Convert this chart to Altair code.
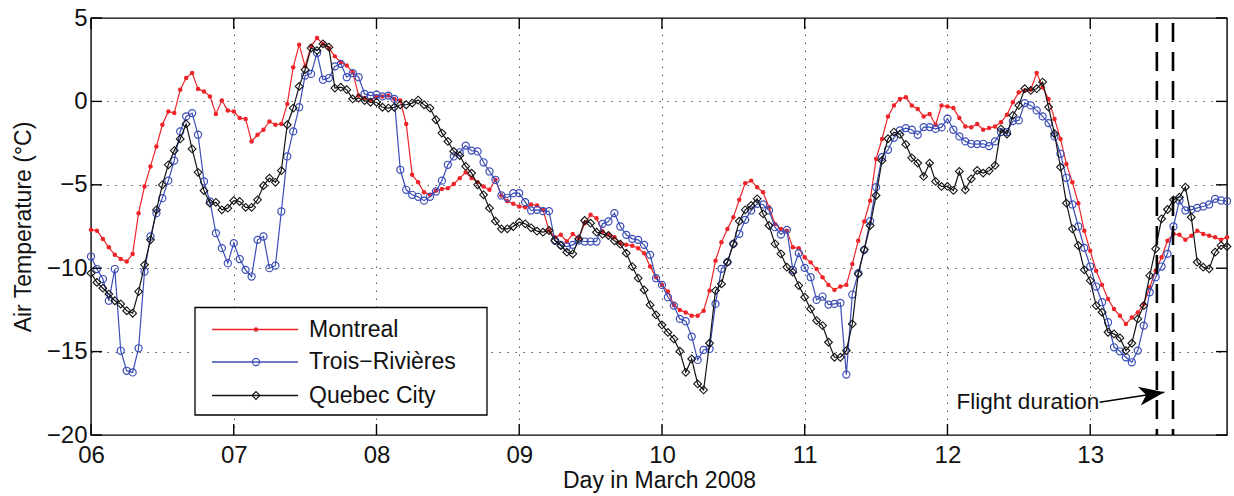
import altair as alt
import pandas as pd

# Hourly air temperature (deg C), 6 March 00h to 13 March 23h 2008, one row per day
montreal = [
    -7.7, -7.75, -8.25, -8.75, -9.2, -9.45, -9.6, -9.15, -6.7, -5.1, -3.9, -2.7,
    -1.4, -0.6, -0.7, 0.7, 1.4, 1.7, 0.75, 0.6, 0.3, -0.75, 0.05, -0.55,
    -0.6, -1.0, -1.05, -2.4, -2.0, -1.7, -1.2, -1.4, -1.35, -0.15, 2.05, 3.4,
    2.1, 3.3, 3.8, 3.45, 3.2, 2.7, 2.35, 2.15, 1.75, 0.35, 0.2, 0.05,
    0.3, 0.3, 0.35, 0.15, 0.05, -1.35, -4.4, -4.85, -5.45, -5.6, -5.35, -5.25,
    -5.2, -4.95, -4.6, -4.25, -4.6, -4.85, -5.1, -5.3, -4.7, -5.64, -5.98, -6.14,
    -6.3, -6.34, -6.18, -6.24, -6.5, -7.74, -8.14, -8.0, -8.4, -7.95, -8.2, -7.3,
    -6.8, -7.0, -7.8, -8.0, -8.15, -8.5, -8.6, -8.65, -8.8, -9.1, -9.9, -10.55,
    -11.0, -11.4, -12.2, -12.5, -12.65, -12.85, -12.85, -12.55, -11.35, -9.55, -8.45, -7.65,
    -6.95, -5.9, -4.9, -4.75, -5.15, -5.45, -6.35, -7.35, -7.65, -7.75, -8.75, -8.8,
    -9.35, -9.65, -10.05, -10.55, -11.0, -11.3, -11.1, -11.0, -9.75, -8.35, -7.2, -5.95,
    -3.45, -2.25, -0.9, -0.25, 0.15, 0.25, -0.25, -0.45, -0.9, -0.75, -1.4, -0.25,
    -0.3, -0.4, -1.0, -1.5, -1.55, -1.35, -1.7, -1.6, -1.5, -1.25, -0.8, -0.05,
    0.55, 0.65, 0.7, 1.7, 0.85, 0.15, -1.05, -2.25, -3.75, -4.85, -6.1, -7.75,
    -8.95, -10.15, -11.0, -11.85, -12.45, -12.85, -13.35, -12.95, -12.65, -12.15, -11.15, -10.15,
    -9.35, -8.35, -7.95, -8.0, -8.3, -8.05, -7.75, -7.95, -8.05, -8.15, -8.3, -8.15,
]

trois_rivieres = [
    -9.3, -10.05, -10.65, -11.95, -10.05, -14.95, -16.15, -16.25, -14.8, -10.2, -8.1, -6.7,
    -5.8, -4.75, -3.55, -1.8, -0.9, -0.7, -2.0, -4.8, -6.0, -7.9, -8.8, -9.7,
    -8.5, -9.45, -10.1, -10.5, -8.3, -8.1, -10.0, -9.85, -6.6, -3.3, -1.8, -0.35,
    1.55, 1.65, 2.9, 1.3, 1.4, 2.1, 2.25, 1.45, 1.7, 1.45, 0.45, 0.35,
    0.4, 0.3, 0.35, 0.15, -4.1, -5.3, -5.6, -5.72, -5.95, -5.72, -5.4, -4.75,
    -3.8, -3.3, -3.05, -2.65, -2.95, -3.0, -3.65, -4.2, -4.7, -5.64, -5.78, -5.5,
    -5.5, -6.04, -6.54, -6.5, -6.58, -6.58, -8.34, -8.6, -8.7, -8.6, -8.34, -8.4,
    -8.4, -8.4, -7.34, -7.2, -6.7, -7.5, -8.0, -8.24, -8.3, -8.6, -9.2, -10.6,
    -11.0, -11.74, -12.24, -13.04, -13.18, -14.1, -15.5, -14.9, -14.84, -12.14, -10.04, -9.64,
    -8.54, -7.94, -7.1, -6.54, -6.14, -6.18, -6.54, -7.54, -7.98, -7.7, -10.1, -9.1,
    -9.98, -10.54, -11.9, -11.7, -12.18, -12.14, -12.08, -16.38, -11.58, -10.3, -8.9, -7.18,
    -5.14, -3.34, -2.9, -2.18, -1.74, -1.6, -1.7, -2.0, -1.54, -1.54, -1.65, -1.56,
    -1.04, -1.7, -2.1, -2.4, -2.54, -2.56, -2.54, -2.68, -2.4, -1.84, -1.84, -1.18,
    -1.14, -0.1, -0.24, -0.54, -0.9, -1.3, -2.1, -3.14, -4.58, -6.18, -7.5, -8.78,
    -9.9, -11.1, -12.04, -13.24, -14.74, -14.98, -15.34, -15.64, -14.94, -13.44, -11.44, -10.54,
    -9.9, -9.14, -7.5, -5.94, -6.54, -6.5, -6.38, -6.3, -6.18, -5.84, -5.94, -5.98,
]

quebec_city = [
    -10.3, -10.85, -11.2, -11.55, -11.95, -12.15, -12.55, -12.7, -11.4, -9.8, -8.3, -6.5,
    -5.0, -3.8, -2.95, -2.25, -1.35, -2.85, -4.25, -5.35, -6.1, -6.05, -6.5, -6.4,
    -5.95, -6.0, -6.35, -6.35, -5.9, -5.05, -4.6, -4.85, -4.15, -1.4, -0.4, 0.9,
    1.9, 3.2, 3.05, 3.45, 3.25, 0.8, 0.85, 0.7, 0.15, 0.2, 0.05, -0.05,
    -0.05, -0.35, -0.4, -0.35, -0.2, -0.2, -0.1, 0.08, -0.2, -0.4, -1.1, -1.9,
    -2.4, -3.0, -3.25, -3.9, -4.3, -5.0, -5.6, -6.4, -7.18, -7.64, -7.64, -7.5,
    -7.24, -7.34, -7.58, -7.78, -7.84, -7.74, -8.34, -8.64, -9.04, -9.14, -8.24, -7.14,
    -7.3, -7.84, -7.96, -8.04, -8.36, -8.56, -9.1, -9.9, -10.6, -11.3, -12.2, -12.8,
    -13.4, -13.85, -14.24, -14.98, -16.24, -15.44, -16.94, -17.3, -14.5, -11.34, -10.94, -9.64,
    -8.54, -7.18, -6.5, -6.24, -5.84, -6.74, -7.44, -8.54, -9.14, -9.94, -10.24, -11.04,
    -11.74, -12.44, -13.14, -13.44, -14.44, -15.34, -15.34, -14.94, -13.34, -10.34, -8.9, -7.44,
    -5.64, -3.54, -2.24, -1.84, -1.98, -2.58, -3.38, -3.7, -4.5, -3.7, -4.8, -5.1,
    -5.1, -5.34, -4.2, -5.3, -4.64, -4.14, -4.3, -4.16, -3.84, -1.66, -1.96, -0.84,
    -0.24, 0.76, 0.66, 0.76, 1.16, -0.34, -1.94, -3.94, -6.1, -7.64, -8.64, -10.1,
    -10.74, -12.24, -12.64, -13.84, -13.94, -14.18, -14.94, -14.5, -13.04, -12.24, -10.44, -8.84,
    -7.04, -6.48, -5.9, -5.74, -5.14, -6.94, -9.64, -9.94, -10.04, -9.04, -8.64, -8.7,
]

stations = ["Montreal", "Trois-Rivières", "Quebec City"]
legend_labels = ["Montreal", "Trois\u2212Rivières", "Quebec City"]
first_day = 6
x_ticks = [6, 7, 8, 9, 10, 11, 12, 13]
y_ticks = [-20, -15, -10, -5, 0, 5]
flight_bounds = [13.467, 13.58]           # start / end of the flight (day)
note_text = "Flight duration"
note_anchor = [13.063, -18.43]            # right end of the note (day, deg C)
arrow_tail = [13.066, -18.04]
arrow_tip = [13.519, -17.44]

FONT = "Liberation Sans"
W, H = 1136, 417

series = {"Montreal": montreal, "Trois-Rivières": trois_rivieres, "Quebec City": quebec_city}
rows = []
for name in stations:
    for h, v in enumerate(series[name]):
        rows.append({"station": name, "day": first_day + h / 24.0, "temp": v})
df = pd.DataFrame(rows)
n_hours = len(montreal)

xscale = alt.Scale(domain=[first_day, first_day + (n_hours - 1) / 24.0], nice=False, zero=False)
yscale = alt.Scale(domain=[y_ticks[0], y_ticks[-1]], nice=False, zero=False)

styles = {
    "Montreal": dict(color="#ee2428", shape="circle", filled=True, size=20, strokeWidth=1),
    "Trois-Rivières": dict(color="#3b4db6", shape="circle", filled=False, size=50, strokeWidth=1.2),
    "Quebec City": dict(color="#141414", shape="diamond", filled=False, size=60, strokeWidth=1.1),
}

# one axis definition shared by every layer so that the merged axes keep it
x_axis = alt.Axis(
    values=x_ticks,
    labelExpr="(datum.value < 10 ? '0' : '') + datum.value",
    title="Day in March 2008",
    grid=True, ticks=False, domain=False, labelFlush=False,
    labelPadding=8, labelFontSize=24, titleFontSize=23,
    titleY=34, titleBaseline="top",
)
y_axis = alt.Axis(
    values=y_ticks,
    title="Air Temperature (°C)",
    grid=True, ticks=False, domain=False, labelFlush=False,
    labelPadding=4, labelFontSize=24, titleFontSize=23,
    titleX=-68, titleY=H / 2, titleAngle=270, titleAlign="center", titleBaseline="middle",
)

X = lambda f: alt.X(f, scale=xscale, axis=x_axis)
Y = lambda f: alt.Y(f, scale=yscale, axis=y_axis)

layers = []
for name in stations:
    st = styles[name]
    sub = alt.Chart(df[df.station == name])
    layers.append(sub.mark_line(color=st["color"], strokeWidth=1.2).encode(x=X("day:Q"), y=Y("temp:Q")))
    layers.append(
        sub.mark_point(shape=st["shape"], filled=st["filled"], color=st["color"], size=st["size"],
                       strokeWidth=st["strokeWidth"], opacity=1).encode(x=X("day:Q"), y=Y("temp:Q"))
    )

# dashed lines bounding the flight
flight = alt.Chart(pd.DataFrame({"day": flight_bounds})).mark_rule(
    color="#000", strokeWidth=2.6, strokeDash=[19, 10], strokeDashOffset=24
).encode(x=X("day:Q"))
layers.append(flight)

# inward tick marks on all four sides
TK = 11
xt = alt.Chart(pd.DataFrame({"day": x_ticks}))
yt = alt.Chart(pd.DataFrame({"temp": y_ticks}))
tick_style = dict(color="#000", strokeWidth=1.4)
layers += [
    xt.mark_rule(**tick_style).encode(x=X("day:Q"), y=alt.value(H), y2=alt.value(H - TK)),
    xt.mark_rule(**tick_style).encode(x=X("day:Q"), y=alt.value(0), y2=alt.value(TK)),
    yt.mark_rule(**tick_style).encode(y=Y("temp:Q"), x=alt.value(0), x2=alt.value(TK)),
    yt.mark_rule(**tick_style).encode(y=Y("temp:Q"), x=alt.value(W), x2=alt.value(W - TK)),
]

# legend box
one = alt.Chart(pd.DataFrame({"k": [0]}))
layers.append(
    one.mark_rect(fill="white", stroke="#000", strokeWidth=1.3).encode(
        x=alt.value(104), x2=alt.value(396), y=alt.value(289.5), y2=alt.value(397)
    )
)
legend_rows = [311.5, 344.0, 377.5]
for name, label, ry in zip(stations, legend_labels, legend_rows):
    st = styles[name]
    layers.append(one.mark_rule(color=st["color"], strokeWidth=1.3).encode(
        x=alt.value(121), x2=alt.value(207), y=alt.value(ry)))
    layers.append(one.mark_point(shape=st["shape"], filled=st["filled"], color=st["color"],
                                 size=st["size"], strokeWidth=st["strokeWidth"], opacity=1).encode(
        x=alt.value(165), y=alt.value(ry)))
    layers.append(one.mark_text(align="left", baseline="middle", fontSize=23, font=FONT,
                                color="#111").encode(
        x=alt.value(218), y=alt.value(ry), text=alt.value(label)))

# flight-duration note with arrow
note = alt.Chart(pd.DataFrame({"day": [note_anchor[0]], "temp": [note_anchor[1]], "t": [note_text]}))
layers.append(note.mark_text(align="right", baseline="alphabetic", fontSize=22.5, font=FONT,
                             color="#111").encode(x=X("day:Q"), y=Y("temp:Q"), text="t:N"))
shaft = alt.Chart(pd.DataFrame({"day": [arrow_tail[0]], "temp": [arrow_tail[1]],
                                "day2": [arrow_tip[0]], "temp2": [arrow_tip[1]]}))
layers.append(shaft.mark_rule(color="#000", strokeWidth=1.5).encode(
    x=X("day:Q"), x2="day2:Q", y=Y("temp:Q"), y2="temp2:Q"))
head = alt.Chart(pd.DataFrame({"day": [arrow_tip[0]], "temp": [arrow_tip[1]]}))
layers.append(head.mark_point(shape="M0,0L-2,-0.75L-1.45,0L-2,0.75Z", filled=True, color="#000",
                              size=640, angle=351.2, opacity=1).encode(x=X("day:Q"), y=Y("temp:Q")))

chart = alt.layer(*layers).properties(
    width=W, height=H,
    autosize=alt.AutoSizeParams(type="none"),
    padding={"left": 91, "top": 18, "right": 7, "bottom": 61},
    background="white",
).configure(font=FONT).configure_view(
    stroke="#000", strokeWidth=1.4
).configure_axis(
    gridColor="#444", gridDash=[1.5, 6.5], gridWidth=1, gridOpacity=0.9,
    labelColor="#111", titleColor="#111", labelFont=FONT, titleFont=FONT,
    titleFontWeight="normal",
)

chart.save("out.html", embed_options={"renderer": "svg", "actions": False})
